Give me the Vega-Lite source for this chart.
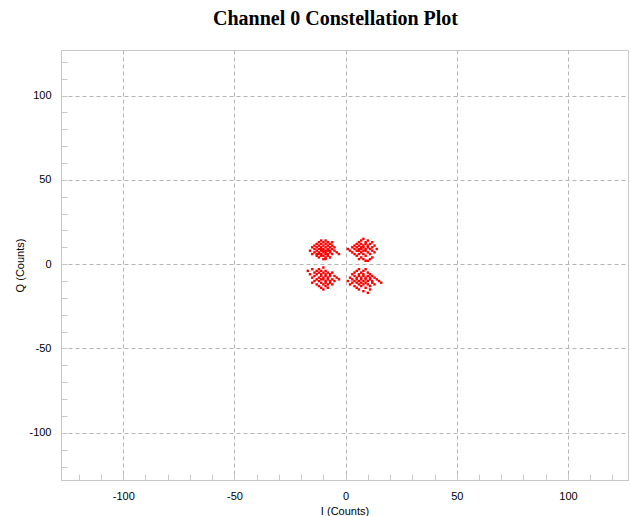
{
  "$schema": "https://vega.github.io/schema/vega-lite/v6.json",
  "width": 567,
  "height": 430,
  "autosize": {"type": "none"},
  "padding": {"left": 61, "top": 50, "right": 3, "bottom": 36},
  "background": "white",
  "title": {
    "text": "Channel 0 Constellation Plot",
    "font": "Liberation Serif",
    "fontSize": 20,
    "fontWeight": "bold",
    "color": "#000000",
    "anchor": "middle",
    "dx": -9,
    "offset": 21
  },
  "config": {
    "view": {"stroke": "#c8c8c8", "strokeWidth": 1},
    "axis": {
      "labelFont": "Liberation Sans",
      "labelFontSize": 11,
      "labelColor": "#000000",
      "titleFont": "Liberation Sans",
      "titleFontSize": 11,
      "titleFontWeight": "normal",
      "titleColor": "#000000",
      "domainColor": "#c8c8c8",
      "tickColor": "#c8c8c8",
      "gridColor": "#b4b4b4",
      "gridDash": [4, 3]
    }
  },
  "data": {
    "values": [
      {"i": -16, "q": 8}, {"i": -15, "q": 6}, {"i": -15, "q": 10}, {"i": -14, "q": 7}, {"i": -14, "q": 9}, {"i": -14, "q": 11},
      {"i": -13, "q": 5}, {"i": -13, "q": 8}, {"i": -13, "q": 10}, {"i": -13, "q": 12}, {"i": -12, "q": 4}, {"i": -12, "q": 6},
      {"i": -12, "q": 7}, {"i": -12, "q": 9}, {"i": -12, "q": 11}, {"i": -12, "q": 13}, {"i": -11, "q": 5}, {"i": -11, "q": 6},
      {"i": -11, "q": 8}, {"i": -11, "q": 9}, {"i": -11, "q": 10}, {"i": -11, "q": 12}, {"i": -10, "q": 3}, {"i": -10, "q": 5},
      {"i": -10, "q": 7}, {"i": -10, "q": 8}, {"i": -10, "q": 9}, {"i": -10, "q": 11}, {"i": -10, "q": 13}, {"i": -9, "q": 4},
      {"i": -9, "q": 6}, {"i": -9, "q": 7}, {"i": -9, "q": 8}, {"i": -9, "q": 10}, {"i": -9, "q": 12}, {"i": -9, "q": 14},
      {"i": -8, "q": 5}, {"i": -8, "q": 6}, {"i": -8, "q": 8}, {"i": -8, "q": 9}, {"i": -8, "q": 11}, {"i": -8, "q": 13},
      {"i": -7, "q": 4}, {"i": -7, "q": 7}, {"i": -7, "q": 8}, {"i": -7, "q": 10}, {"i": -7, "q": 12}, {"i": -6, "q": 6},
      {"i": -6, "q": 9}, {"i": -6, "q": 11}, {"i": -6, "q": 13}, {"i": -5, "q": 8}, {"i": -5, "q": 10}, {"i": -4, "q": 7},
      {"i": -3, "q": 6}, {"i": -11, "q": 14}, {"i": -13, "q": 6}, {"i": -9, "q": 3},
      {"i": 1, "q": 9}, {"i": 2, "q": 8}, {"i": 3, "q": 10}, {"i": 3, "q": 7}, {"i": 4, "q": 11}, {"i": 4, "q": 9},
      {"i": 4, "q": 6}, {"i": 5, "q": 12}, {"i": 5, "q": 10}, {"i": 5, "q": 8}, {"i": 5, "q": 5}, {"i": 6, "q": 13},
      {"i": 6, "q": 11}, {"i": 6, "q": 9}, {"i": 6, "q": 8}, {"i": 6, "q": 6}, {"i": 7, "q": 14}, {"i": 7, "q": 12},
      {"i": 7, "q": 10}, {"i": 7, "q": 9}, {"i": 7, "q": 7}, {"i": 7, "q": 4}, {"i": 8, "q": 15}, {"i": 8, "q": 11},
      {"i": 8, "q": 10}, {"i": 8, "q": 8}, {"i": 8, "q": 6}, {"i": 8, "q": 3}, {"i": 9, "q": 13}, {"i": 9, "q": 12},
      {"i": 9, "q": 9}, {"i": 9, "q": 8}, {"i": 9, "q": 5}, {"i": 10, "q": 14}, {"i": 10, "q": 11}, {"i": 10, "q": 10},
      {"i": 10, "q": 7}, {"i": 10, "q": 2}, {"i": 11, "q": 12}, {"i": 11, "q": 9}, {"i": 11, "q": 6}, {"i": 11, "q": 3},
      {"i": 12, "q": 13}, {"i": 12, "q": 10}, {"i": 12, "q": 8}, {"i": 13, "q": 11}, {"i": 13, "q": 7}, {"i": 14, "q": 9},
      {"i": 6, "q": 3}, {"i": 9, "q": 2}, {"i": 12, "q": 4},
      {"i": -17, "q": -4}, {"i": -16, "q": -6}, {"i": -15, "q": -3}, {"i": -15, "q": -8}, {"i": -14, "q": -5}, {"i": -14, "q": -7},
      {"i": -14, "q": -10}, {"i": -13, "q": -4}, {"i": -13, "q": -6}, {"i": -13, "q": -9}, {"i": -13, "q": -12}, {"i": -12, "q": -3},
      {"i": -12, "q": -5}, {"i": -12, "q": -8}, {"i": -12, "q": -10}, {"i": -12, "q": -13}, {"i": -11, "q": -4}, {"i": -11, "q": -6},
      {"i": -11, "q": -7}, {"i": -11, "q": -9}, {"i": -11, "q": -11}, {"i": -11, "q": -14}, {"i": -10, "q": -2}, {"i": -10, "q": -5},
      {"i": -10, "q": -8}, {"i": -10, "q": -9}, {"i": -10, "q": -12}, {"i": -10, "q": -15}, {"i": -9, "q": -4}, {"i": -9, "q": -6},
      {"i": -9, "q": -7}, {"i": -9, "q": -10}, {"i": -9, "q": -11}, {"i": -9, "q": -13}, {"i": -8, "q": -5}, {"i": -8, "q": -8},
      {"i": -8, "q": -9}, {"i": -8, "q": -12}, {"i": -8, "q": -14}, {"i": -7, "q": -6}, {"i": -7, "q": -7}, {"i": -7, "q": -10},
      {"i": -7, "q": -11}, {"i": -6, "q": -5}, {"i": -6, "q": -9}, {"i": -6, "q": -12}, {"i": -5, "q": -7}, {"i": -5, "q": -10},
      {"i": -4, "q": -8}, {"i": -3, "q": -9}, {"i": -15, "q": -11},
      {"i": 1, "q": -10}, {"i": 2, "q": -8}, {"i": 2, "q": -12}, {"i": 3, "q": -6}, {"i": 3, "q": -9}, {"i": 3, "q": -11},
      {"i": 4, "q": -5}, {"i": 4, "q": -7}, {"i": 4, "q": -10}, {"i": 4, "q": -13}, {"i": 5, "q": -4}, {"i": 5, "q": -8},
      {"i": 5, "q": -9}, {"i": 5, "q": -11}, {"i": 5, "q": -14}, {"i": 6, "q": -3}, {"i": 6, "q": -6}, {"i": 6, "q": -7},
      {"i": 6, "q": -10}, {"i": 6, "q": -12}, {"i": 6, "q": -15}, {"i": 7, "q": -5}, {"i": 7, "q": -8}, {"i": 7, "q": -9},
      {"i": 7, "q": -11}, {"i": 7, "q": -13}, {"i": 8, "q": -4}, {"i": 8, "q": -6}, {"i": 8, "q": -7}, {"i": 8, "q": -10},
      {"i": 8, "q": -12}, {"i": 8, "q": -16}, {"i": 9, "q": -3}, {"i": 9, "q": -8}, {"i": 9, "q": -9}, {"i": 9, "q": -11},
      {"i": 9, "q": -14}, {"i": 10, "q": -5}, {"i": 10, "q": -7}, {"i": 10, "q": -10}, {"i": 10, "q": -12}, {"i": 10, "q": -17},
      {"i": 11, "q": -6}, {"i": 11, "q": -8}, {"i": 11, "q": -9}, {"i": 11, "q": -13}, {"i": 12, "q": -7}, {"i": 12, "q": -10},
      {"i": 12, "q": -11}, {"i": 13, "q": -8}, {"i": 13, "q": -12}, {"i": 14, "q": -9}, {"i": 15, "q": -10}, {"i": 16, "q": -11},
      {"i": 11, "q": -15}
    ]
  },
  "mark": {"type": "point", "shape": "square", "size": 6, "filled": true, "color": "#ff0000", "opacity": 1, "clip": true},
  "encoding": {
    "x": {
      "field": "i",
      "type": "quantitative",
      "scale": {"domain": [-128, 127], "nice": false, "zero": false},
      "axis": {
        "title": "I (Counts)",
        "titlePadding": 4,
        "values": [-120, -110, -100, -90, -80, -70, -60, -50, -40, -30, -20, -10, 0, 10, 20, 30, 40, 50, 60, 70, 80, 90, 100, 110, 120],
        "labelExpr": "datum.value % 50 === 0 ? toString(datum.value) : ''",
        "tickSize": -6,
        "labelPadding": 16,
        "grid": true,
        "gridOpacity": {"condition": {"test": "datum.value % 50 === 0", "value": 1}, "value": 0}
      }
    },
    "y": {
      "field": "q",
      "type": "quantitative",
      "scale": {"domain": [-128, 127], "nice": false, "zero": false},
      "axis": {
        "title": "Q (Counts)",
        "titlePadding": 3,
        "values": [-120, -110, -100, -90, -80, -70, -60, -50, -40, -30, -20, -10, 0, 10, 20, 30, 40, 50, 60, 70, 80, 90, 100, 110, 120],
        "labelExpr": "datum.value % 50 === 0 ? toString(datum.value) : ''",
        "tickSize": -6,
        "labelPadding": 16,
        "grid": true,
        "gridOpacity": {"condition": {"test": "datum.value % 50 === 0", "value": 1}, "value": 0}
      }
    }
  }
}
